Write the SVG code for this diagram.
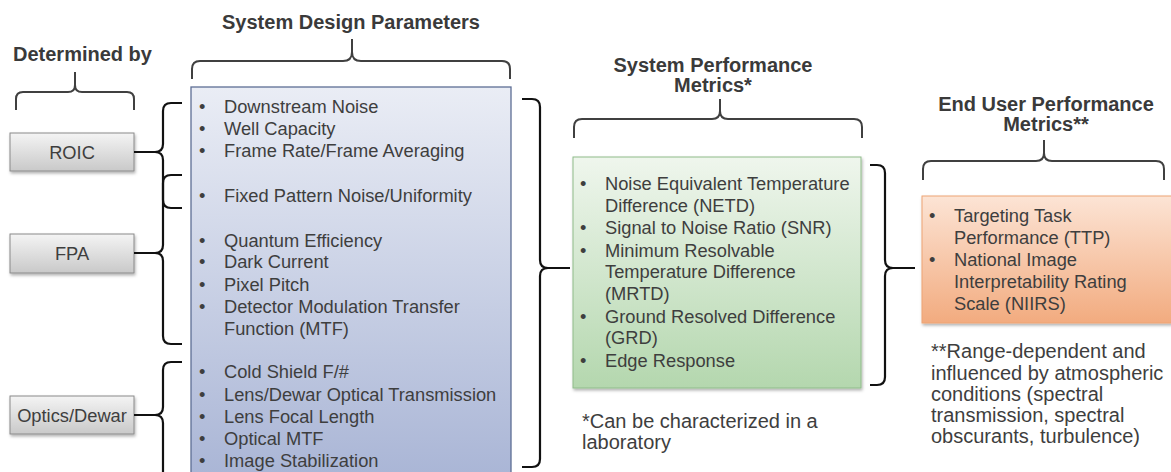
<svg xmlns="http://www.w3.org/2000/svg" width="1171" height="472" viewBox="0 0 1171 472">
<defs>
<linearGradient id="gGray" x1="0" y1="0" x2="0" y2="1"><stop offset="0" stop-color="#f4f4f4"/><stop offset="1" stop-color="#c9c9c9"/></linearGradient>
<linearGradient id="gBlue" x1="0" y1="0" x2="0" y2="1"><stop offset="0" stop-color="#eaedf5"/><stop offset="1" stop-color="#a8b4d5"/></linearGradient>
<linearGradient id="gGreen" x1="0" y1="0" x2="0" y2="1"><stop offset="0" stop-color="#eff6ed"/><stop offset="1" stop-color="#b4d7ae"/></linearGradient>
<linearGradient id="gOrange" x1="0" y1="0" x2="0" y2="1"><stop offset="0" stop-color="#fce4d5"/><stop offset="1" stop-color="#f2ab7f"/></linearGradient>
<filter id="sh" x="-10%" y="-10%" width="120%" height="130%"><feDropShadow dx="1" dy="2" stdDeviation="1.5" flood-color="#000" flood-opacity="0.3"/></filter>
</defs>
<style>
text{font-family:"Liberation Sans",Arial,sans-serif;fill:#3e3e3e}
.h{font-size:20px;font-weight:bold;fill:#3a3a3a}
.b{font-size:18.3px}
.f{font-size:20px}
.c{text-anchor:middle}
.tb{fill:none;stroke:#404040;stroke-width:2}
.sb{fill:none;stroke:#111;stroke-width:2.2}
</style>

<g id="headers">
<text class="h" x="13" y="61">Determined by</text>
<text class="h c" x="351" y="29">System Design Parameters</text>
<text class="h c" x="713" y="72">System Performance</text>
<text class="h c" x="713" y="92">Metrics*</text>
<text class="h c" x="1046" y="111">End User Performance</text>
<text class="h c" x="1046" y="131">Metrics**</text>
</g>

<g id="roic">
<rect x="10" y="133" width="124" height="38" fill="url(#gGray)" stroke="#8a8a8a" stroke-width="1" filter="url(#sh)"/>
<text class="b c" x="72" y="158.5">ROIC</text>
</g>
<g id="fpa">
<rect x="10" y="234" width="124" height="39" fill="url(#gGray)" stroke="#8a8a8a" stroke-width="1" filter="url(#sh)"/>
<text class="b c" x="72" y="260">FPA</text>
</g>
<g id="optics">
<rect x="10" y="396" width="124" height="38" fill="url(#gGray)" stroke="#8a8a8a" stroke-width="1" filter="url(#sh)"/>
<text class="b c" x="72" y="421.5">Optics/Dewar</text>
</g>

<g id="design-params">
<rect x="191" y="87" width="320" height="400" fill="url(#gBlue)" stroke="#5d6e94" stroke-width="1.3"/>
<g class="b">
<text x="199" y="113">•</text><text x="224" y="113">Downstream Noise</text>
<text x="199" y="135">•</text><text x="224" y="135">Well Capacity</text>
<text x="199" y="157">•</text><text x="224" y="157">Frame Rate/Frame Averaging</text>
<text x="199" y="202">•</text><text x="224" y="202">Fixed Pattern Noise/Uniformity</text>
<text x="199" y="247">•</text><text x="224" y="247">Quantum Efficiency</text>
<text x="199" y="268">•</text><text x="224" y="268">Dark Current</text>
<text x="199" y="291">•</text><text x="224" y="291">Pixel Pitch</text>
<text x="199" y="313">•</text><text x="224" y="313">Detector Modulation Transfer</text>
<text x="224" y="335">Function (MTF)</text>
<text x="199" y="378">•</text><text x="224" y="378">Cold Shield F/#</text>
<text x="199" y="401">•</text><text x="224" y="401">Lens/Dewar Optical Transmission</text>
<text x="199" y="423">•</text><text x="224" y="423">Lens Focal Length</text>
<text x="199" y="445">•</text><text x="224" y="445">Optical MTF</text>
<text x="199" y="467">•</text><text x="224" y="467">Image Stabilization</text>
</g>
</g>

<g id="system-metrics">
<rect x="573" y="157" width="288" height="231" fill="url(#gGreen)" stroke="#8fbb8a" stroke-width="1" filter="url(#sh)"/>
<g class="b">
<text x="580" y="190">•</text><text x="605" y="190">Noise Equivalent Temperature</text>
<text x="605" y="212">Difference (NETD)</text>
<text x="580" y="234">•</text><text x="605" y="234">Signal to Noise Ratio (SNR)</text>
<text x="580" y="257">•</text><text x="605" y="257">Minimum Resolvable</text>
<text x="605" y="278">Temperature Difference</text>
<text x="605" y="300">(MRTD)</text>
<text x="580" y="323">•</text><text x="605" y="323">Ground Resolved Difference</text>
<text x="605" y="344">(GRD)</text>
<text x="580" y="367">•</text><text x="605" y="367">Edge Response</text>
</g>
<text class="f" x="582" y="428">*Can be characterized in a</text>
<text class="f" x="582" y="449">laboratory</text>
</g>

<g id="end-user-metrics">
<rect x="922" y="196" width="250" height="127" fill="url(#gOrange)" stroke="#eea475" stroke-width="1" filter="url(#sh)"/>
<g class="b">
<text x="929" y="222">•</text><text x="954" y="222">Targeting Task</text>
<text x="954" y="244">Performance (TTP)</text>
<text x="929" y="266">•</text><text x="954" y="266">National Image</text>
<text x="954" y="288">Interpretability Rating</text>
<text x="954" y="310">Scale (NIIRS)</text>
</g>
<text class="f" x="931" y="358">**Range-dependent and</text>
<text class="f" x="931" y="380">influenced by atmospheric</text>
<text class="f" x="931" y="401">conditions (spectral</text>
<text class="f" x="931" y="422">transmission, spectral</text>
<text class="f" x="931" y="443">obscurants, turbulence)</text>
</g>

<g id="connectors">
<path class="tb" d="M16,110 V99 Q16,92 23,92 H68 Q75,92 75,85 V72 V85 Q75,92 82,92 H127 Q134,92 134,99 V110"/>
<path class="tb" d="M192,79 V69 Q192,61 200,61 H343 Q352,61 352,52 V39 V52 Q352,61 361,61 H502 Q510,61 510,69 V79"/>
<path class="tb" d="M574,138 V127 Q574,119 582,119 H712 Q720,119 720,111 V99 V111 Q720,119 728,119 H854 Q862,119 862,127 V138"/>
<path class="tb" d="M923,180 V169 Q923,161 931,161 H1036 Q1044,161 1044,153 V140 V153 Q1044,161 1052,161 H1156 Q1164,161 1164,169 V180"/>
<path class="sb" d="M182,103 H171 Q163,103 163,111 V144 Q163,152 155,152 H134 H155 Q163,152 163,160 V200 Q163,208 171,208 H182"/>
<path class="sb" d="M182,175 H171 Q163,175 163,183 V245 Q163,253 155,253 H134 H155 Q163,253 163,261 V336 Q163,344 171,344 H182"/>
<path class="sb" d="M182,362 H171 Q163,362 163,370 V407 Q163,415 155,415 H134 H155 Q163,415 163,423 V482 Q163,490 171,490 H182"/>
<path class="sb" d="M522,99 H532 Q540,99 540,107 V260 Q540,268 548,268 H570 H548 Q540,268 540,276 V459 Q540,467 532,467 H522"/>
<path class="sb" d="M870,165 H877 Q885,165 885,173 V260 Q885,268 893,268 H915 H893 Q885,268 885,276 V377 Q885,385 877,385 H870"/>
</g>
</svg>
